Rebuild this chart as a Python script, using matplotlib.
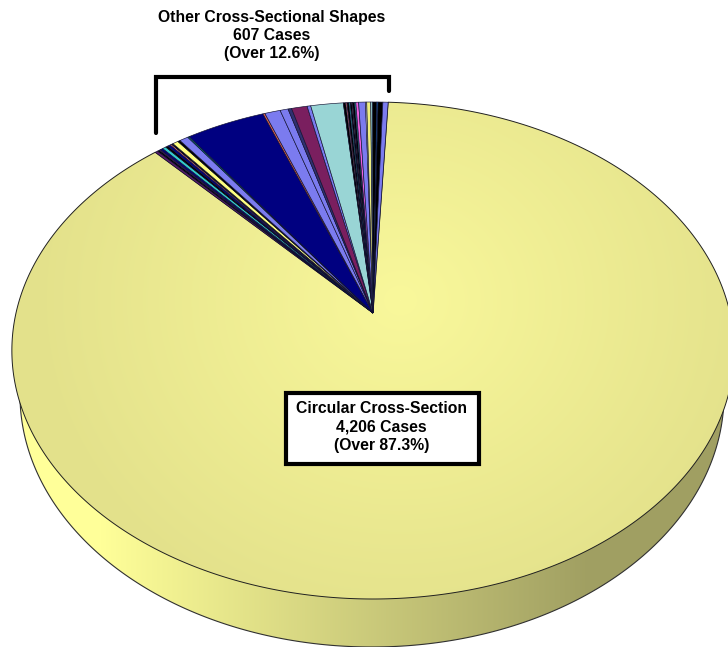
# -*- coding: utf-8 -*-
# pie chart of cross section shapes, drawn with a perspective tilt

import numpy as np
import matplotlib
matplotlib.use('Agg')
import matplotlib.pyplot as plt
from matplotlib.patches import Polygon

plt.rcParams['font.family'] = ['Liberation Sans', 'DejaVu Sans']

# counts, clockwise after the circular slice
circular_cases = 4206
other_cases = [7, 5, 4, 6, 9, 6, 7, 4, 4, 14, 6, 22, 4, 197, 5, 39, 20, 9, 39, 9, 81,
               6, 3, 5, 3, 4, 2, 5, 3, 7, 17, 3, 10, 5, 10, 3, 12, 13]
other_colors = ['#5a1a6a', '#000000', '#4a1060', '#000080', '#33cccc', '#000000', '#000080',
                '#ff8080', '#000000', '#ffff80', '#000000', '#7b7bef', '#007a7a', '#000080',
                '#e06050', '#7b7bef', '#7b7bef', '#303070', '#7a1f5f', '#7b7bef', '#99d5d5',
                '#000000', '#ff8080', '#000000', '#33cccc', '#000000', '#ff8080', '#000000',
                '#33cccc', '#f060e0', '#7b7bef', '#ffffff', '#f0f080', '#99d5d5', '#000000',
                '#1080e0', '#000000', '#7b7bef']

shape_labels = ['Circular Cross-Section\n4,206 Cases\n(Over 87.3%)',
                'Other Cross-Sectional Shapes\n607 Cases\n(Over 12.6%)']

W, H = 728, 647

# projection of the flat pie on to the picture
cx, ytop, ybot, apex_y = 373, 102, 599, 313
c = (2 * apex_y - ytop - ybot) / (ybot - ytop) * -1
b = ytop * (1 + c) - apex_y
d = 357


def rim(theta):
    # theta in radians, clockwise from straight up
    y = np.cos(theta)
    x = np.sin(theta)
    return cx + d * x / (1 + c * y), (apex_y + b * y) / (1 + c * y)


def slice_points(a0, a1):
    n = max(3, int(abs(a1 - a0) * 200))
    t = np.linspace(a0, a1, n)
    xs, ys = rim(t)
    return np.column_stack([np.r_[cx, xs], np.r_[apex_y, ys]])


fig = plt.figure(figsize=(W / 100, H / 100), dpi=100)
ax = fig.add_axes([0, 0, 1, 1])
ax.axis('off')

# side of the pie, horizontal shading
t = np.linspace(0, 2 * np.pi, 500)
side = Polygon(np.column_stack([372 + 352 * np.cos(t), 395 + 252 * np.sin(t)]),
               closed=True, fc='none', ec='#303030', lw=0.8, zorder=2)
ax.add_patch(side)
shade_x = np.arange(W)
light = np.array([255, 255, 153]) / 255
dark = np.array([160, 159, 98]) / 255
mix = np.interp(shade_x, [100, 590], [0, 1])
side_img = np.array([light + (dark - light) * m for m in mix])[None, :, :]
im = ax.imshow(side_img, extent=[0, W, H, 0], aspect='auto', zorder=1)
im.set_clip_path(side)

# slices
total = circular_cases + sum(other_cases)
start = np.radians(2.8)
a1 = start + 2 * np.pi * circular_cases / total
yy, xx = np.mgrid[0:H, 0:W]
dist = np.hypot(xx - 400, (yy - 300) * 1.1)
m2 = np.clip(dist / 370, 0, 1)[:, :, None]
top_light = np.array([249, 248, 155]) / 255
top_dark = np.array([227, 225, 139]) / 255
top_img = top_light + (top_dark - top_light) * m2
circ = Polygon(slice_points(start, a1), closed=True, fc='none', ec='#202020', lw=0.7, zorder=4)
ax.add_patch(circ)
im2 = ax.imshow(top_img, extent=[0, W, H, 0], aspect='auto', zorder=3)
im2.set_clip_path(circ)

a0 = a1
for value, color in zip(other_cases, other_colors):
    a2 = a0 + 2 * np.pi * value / total
    ax.add_patch(Polygon(slice_points(a0, a2), closed=True, fc=color, ec='#101030', lw=0.45, zorder=5))
    a0 = a2

ax.set_xlim(0, W)
ax.set_ylim(H, 0)

# label for the big slice
ax.text(381.5, 427, shape_labels[0], ha='center', va='center', fontsize=11.3, fontweight='bold',
        linespacing=1.27, zorder=7)
ax.add_patch(plt.Rectangle((286, 393), 193, 71, fc='white', ec='black', lw=3, zorder=6))

# bracket and label for the rest
ax.text(271.5, 35.5, shape_labels[1], ha='center', va='center', fontsize=11.3, fontweight='bold',
        linespacing=1.27, zorder=7)
ax.plot([156, 156, 389, 389], [133, 77, 77, 91], color='black', lw=3, solid_capstyle='round',
        solid_joinstyle='miter', zorder=7)

fig.savefig('out.png', dpi=100)
